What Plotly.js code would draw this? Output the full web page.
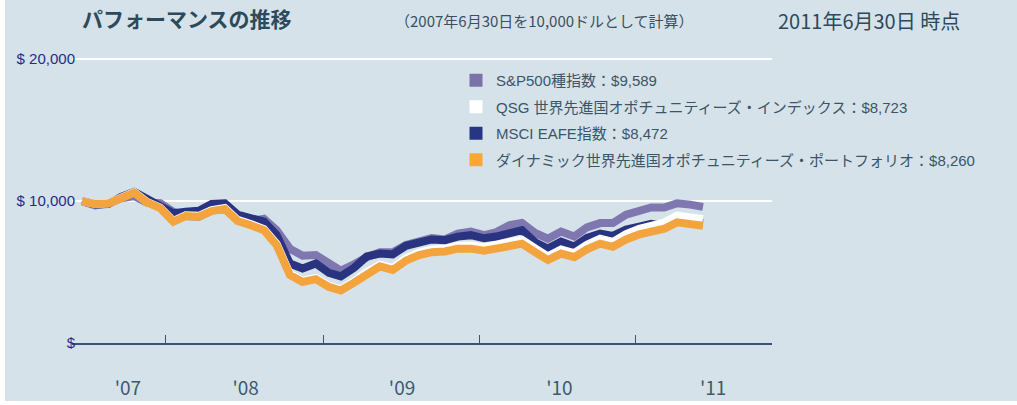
<!DOCTYPE html>
<html>
<head>
<meta charset="utf-8">
<script src="https://cdn.plot.ly/plotly-3.0.1.min.js"></script>
<style>
  html, body { margin: 0; padding: 0; background: #ffffff; }
  #chart { position: absolute; left: 5px; top: 0; width: 1012px; height: 401px; }
</style>
</head>
<body>
<div id="chart"></div>
<script>
// Month-end dates, 30 Jun 2007 to 30 Jun 2011
const months = [
  '2007-06-30','2007-07-31','2007-08-31','2007-09-30','2007-10-31','2007-11-30','2007-12-31',
  '2008-01-31','2008-02-29','2008-03-31','2008-04-30','2008-05-31','2008-06-30',
  '2008-07-31','2008-08-31','2008-09-30','2008-10-31','2008-11-30','2008-12-31',
  '2009-01-31','2009-02-28','2009-03-31','2009-04-30','2009-05-31','2009-06-30',
  '2009-07-31','2009-08-31','2009-09-30','2009-10-31','2009-11-30','2009-12-31',
  '2010-01-31','2010-02-28','2010-03-31','2010-04-30','2010-05-31','2010-06-30',
  '2010-07-31','2010-08-31','2010-09-30','2010-10-31','2010-11-30','2010-12-31',
  '2011-01-31','2011-02-28','2011-03-31','2011-04-30','2011-05-31','2011-06-30'
];

// Value of $10,000 invested
const sp500 = [
  10000, 9700, 9830, 10200, 10350, 9900, 9850,
  9250, 8950, 8900, 9350, 9450, 8700,
  8600, 8750, 7950, 6650, 6150, 6200,
  5700, 5100, 5550, 6050, 6400, 6400,
  6900, 7150, 7400, 7300, 7700, 7850,
  7600, 7800, 8300, 8450, 7750, 7350,
  7850, 7500, 8150, 8450, 8450, 9050,
  9250, 9550, 9550, 9850, 9750, 9589
];
const qsgIndex = [
  10000, 9800, 9850, 10270, 10630, 9940, 9540,
  8600, 9000, 8960, 9370, 9520, 8680,
  8380, 8030, 6980, 4880, 4370, 4580,
  4020, 3770, 4340, 5010, 5520, 5280,
  5950, 6370, 6580, 6640, 6860, 6870,
  6730, 6890, 7110, 7280, 6670, 6110,
  6590, 6340, 6920, 7350, 7130, 7680,
  8050, 8270, 8490, 8970, 8870, 8723
];
const msciEafe = [
  10000, 9780, 9800, 10300, 10650, 10150, 9790,
  9150, 9250, 9320, 9800, 9850, 9050,
  8750, 8550, 7600, 5600, 5250, 5600,
  4950, 4700, 5300, 6100, 6300, 6250,
  6850, 7100, 7300, 7250, 7500, 7600,
  7380, 7500, 7800, 7950, 7100, 6650,
  7150, 6800, 7400, 7700, 7550, 8000,
  8200, 8400, 8250, 8700, 8550, 8472
];
const dynamicPortfolio = [
  10000, 9790, 9830, 10250, 10600, 9900, 9500,
  8550, 8950, 8900, 9300, 9450, 8600,
  8300, 7950, 6900, 4800, 4300, 4500,
  3950, 3700, 4250, 4900, 5400, 5150,
  5800, 6200, 6400, 6450, 6650, 6650,
  6500, 6650, 6850, 7000, 6400, 5850,
  6300, 6050, 6600, 7000, 6780, 7300,
  7650, 7850, 8050, 8500, 8400, 8260
];

const seriesNames = [
  'S&P500種指数',
  'QSG 世界先進国オポチュニティーズ・インデックス',
  'MSCI EAFE指数',
  'ダイナミック世界先進国オポチュニティーズ・ポートフォリオ'
];
const seriesValues = [sp500, qsgIndex, msciEafe, dynamicPortfolio];
const lineColors = ['#7f77b0', '#ffffff', '#29337f', '#f3a43e'];
const legendColors = ['#7b72aa', '#ffffff', '#263584', '#fba832'];
const drawOrder = [0, 2, 1, 3];

const yTickVals = [0, 10000, 20000];
const yTickText = ['$', '$ 10,000', '$ 20,000'];
const yearTickDates = ['2008-01-13', '2009-01-17', '2010-01-20', '2011-01-23'];
const yearLabelDates = ['2007-10-16', '2008-07-19', '2009-07-22', '2010-07-27', '2011-07-24'];
const yearLabels = ["'07", "'08", "'09", "'10", "'11"];

const titleText = 'パフォーマンスの推移';
const subtitleText = '（2007年6月30日を10,000ドルとして計算）';
const asOfText = '2011年6月30日 時点';

const narrow = "'Liberation Sans Narrow', 'Noto Sans CJK JP', sans-serif";
const regular = "'Liberation Sans', 'Noto Sans CJK JP', sans-serif";

const traces = [];
drawOrder.forEach(function (k) {
  traces.push({
    type: 'scatter', mode: 'lines',
    x: months, y: seriesValues[k],
    line: { color: lineColors[k], width: 8, shape: 'linear' },
    showlegend: false, hoverinfo: 'skip'
  });
});
seriesNames.forEach(function (name, k) {
  const last = seriesValues[k][seriesValues[k].length - 1];
  traces.push({
    type: 'scatter', mode: 'markers',
    x: [null], y: [null],
    name: name + '：$' + last.toLocaleString('en-US'),
    legendgroup: 'g' + k,
    marker: { symbol: 'square', size: 13, color: legendColors[k], line: { width: 0 } },
    showlegend: true
  });
});
// invisible trace to carry the label axis
traces.push({
  type: 'scatter', mode: 'lines', x: months, y: sp500, xaxis: 'x2',
  line: { width: 0, color: 'rgba(0,0,0,0)' }, showlegend: false, hoverinfo: 'skip'
});

const xRange = ['2007-06-06 12:00', '2011-12-09 08:00'];

const layout = {
  width: 1012, height: 401,
  margin: { l: 67, r: 245, t: 45, b: 58 },
  paper_bgcolor: '#d6e2e9',
  plot_bgcolor: '#d6e2e9',
  showlegend: true,
  title: {
    text: '<b>' + titleText + '</b>',
    x: 77 / 1012, xanchor: 'left', xref: 'container',
    y: 1 - 20 / 401, yanchor: 'middle', yref: 'container',
    font: { family: narrow, size: 21, color: '#2c4a5b' }
  },
  xaxis: {
    type: 'date', range: xRange,
    tickmode: 'array', tickvals: yearTickDates,
    showticklabels: false,
    ticks: 'inside', ticklen: 8, tickwidth: 1, tickcolor: '#3e4f7a',
    showgrid: false, zeroline: false,
    showline: true, linecolor: '#3e4f7a', linewidth: 2
  },
  xaxis2: {
    type: 'date', range: xRange, overlaying: 'x', anchor: 'y', side: 'bottom',
    tickmode: 'array', tickvals: yearLabelDates, ticktext: yearLabels,
    ticks: 'outside', ticklen: 28, tickcolor: 'rgba(0,0,0,0)',
    showgrid: false, zeroline: false, showline: false,
    tickfont: { family: narrow, size: 19, color: '#3f5a6b' }
  },
  yaxis: {
    range: [0, 21000],
    tickmode: 'array', tickvals: yTickVals, ticktext: yTickText,
    showgrid: true, gridcolor: '#ffffff', gridwidth: 2,
    zeroline: false, showline: false, ticks: '',
    ticklabelstandoff: -4,
    tickfont: { family: regular, size: 15, color: '#1b2d8f' }
  },
  legend: {
    x: (456 - 72) / 700, xanchor: 'left',
    y: (343 - 64) / 298, yanchor: 'top',
    bgcolor: 'rgba(0,0,0,0)', borderwidth: 0,
    tracegroupgap: 4,
    font: { family: regular, size: 15, color: '#3b5568' }
  },
  annotations: [
    {
      text: subtitleText, xref: 'paper', yref: 'paper',
      x: (393 - 72) / 700, xanchor: 'left', y: (343 - 20) / 298, yanchor: 'middle',
      showarrow: false, font: { family: narrow, size: 15, color: '#3a5060' }
    },
    {
      text: asOfText, xref: 'paper', yref: 'paper',
      x: (776 - 72) / 700, xanchor: 'left', y: (343 - 20) / 298, yanchor: 'middle',
      showarrow: false, font: { family: narrow, size: 20, color: '#2c4a5b' }
    }
  ]
};

Plotly.newPlot('chart', traces, layout, { displayModeBar: false, staticPlot: true });
</script>
</body>
</html>
